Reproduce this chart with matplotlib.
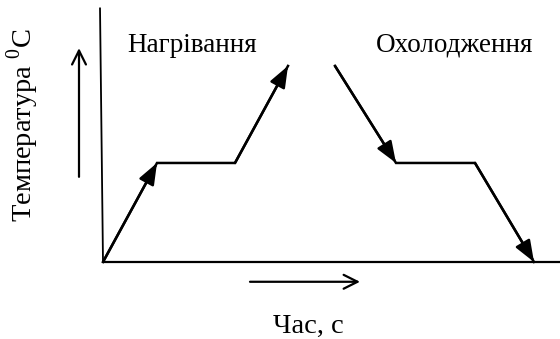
import matplotlib
matplotlib.use("Agg")
import matplotlib.pyplot as plt

plt.rcParams['font.family'] = ['Liberation Serif', 'DejaVu Serif']
plt.rcParams['mathtext.fontset'] = 'custom'
plt.rcParams['mathtext.rm'] = 'Liberation Serif'

# Heating curve (time units, temperature units)
heat_time = [0.0, 5.4, 13.2, 18.5]
heat_temp = [0.0, 10.0, 10.0, 19.8]
# Cooling curve
cool_time = [23.2, 29.3, 37.2, 43.1]
cool_temp = [19.8, 10.0, 10.0, 0.0]

title_heat = "Нагрівання"
title_cool = "Охолодження"
xlabel = "Час, с"
ylabel = "Температура $^{0}$C"

fig = plt.figure(figsize=(5.6, 3.39), dpi=100)
ax = fig.add_axes([0, 0, 1, 1])
ax.set_xlim(-10.3, 45.7)
ax.set_ylim(-7.78, 26.46)
ax.axis('off')

# axes lines
ax.plot([0.0, -0.3], [0.0, 25.7], color='black', lw=1.3, solid_capstyle='butt')
ax.plot([0.0, 45.7], [0.0, 0.0], color='black', lw=1.6, solid_capstyle='butt')

lw = 1.8
ax.plot(heat_time, heat_temp, color='black', lw=lw, solid_joinstyle='miter')
ax.plot(cool_time, cool_temp, color='black', lw=lw, solid_joinstyle='miter')

head = dict(arrowstyle='-|>,head_length=1.3,head_width=0.5', color='black',
            lw=lw, shrinkA=0, shrinkB=0, mutation_scale=10)
for xs, ys, idx in [(heat_time, heat_temp, 0), (heat_time, heat_temp, 2),
                    (cool_time, cool_temp, 0), (cool_time, cool_temp, 2)]:
    ax.annotate('', xy=(xs[idx + 1], ys[idx + 1]), xytext=(xs[idx], ys[idx]),
                arrowprops=head)

openarrow = dict(arrowstyle='->,head_length=1.0,head_width=0.5', color='black',
                 lw=1.6, shrinkA=0, shrinkB=0, mutation_scale=10)
# direction arrows
ax.annotate('', xy=(-2.4, 21.6), xytext=(-2.4, 8.6), arrowprops=openarrow)
ax.annotate('', xy=(25.7, -2.0), xytext=(14.7, -2.0), arrowprops=openarrow)

fs = 19.5
ax.text(8.9, 21.9, title_heat, fontsize=fs, ha='center', va='center')
ax.text(35.2, 21.9, title_cool, fontsize=fs, ha='center', va='center')
ax.text(20.5, -6.5, xlabel, fontsize=20.5, ha='center', va='center')
ax.text(-8.0, 13.8, ylabel, fontsize=20.5, ha='center', va='center', rotation=90)

fig.savefig('out.png', dpi=100)
